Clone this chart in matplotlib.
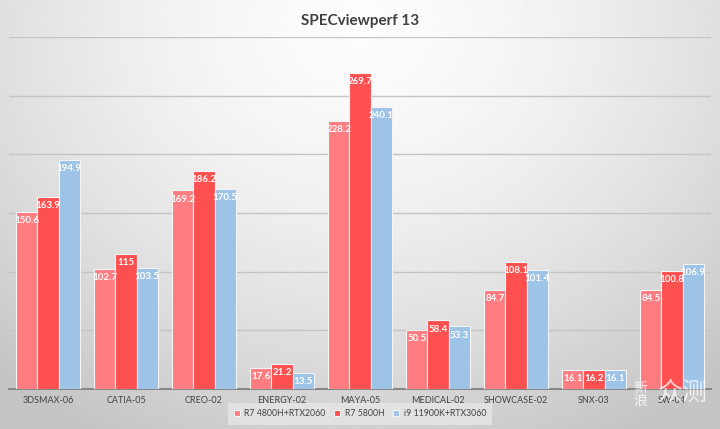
import numpy as np
import matplotlib
matplotlib.use("Agg")
import matplotlib.pyplot as plt

categories = ["3DSMAX-06", "CATIA-05", "CREO-02", "ENERGY-02", "MAYA-05",
              "MEDICAL-02", "SHOWCASE-02", "SNX-03", "SW-04"]
series_names = ["R7 4800H+RTX2060", "R7 5800H", "i9 11900K+RTX3060"]
r7_4800h = [150.6, 102.7, 169.2, 17.6, 228.2, 50.5, 84.7, 16.1, 84.5]
r7_5800h = [163.9, 115, 186.2, 21.2, 269.7, 58.4, 108.1, 16.2, 100.8]
i9_11900k = [194.9, 103.5, 170.5, 13.5, 240.1, 53.3, 101.4, 16.1, 106.9]
colors = ["#FF7C80", "#FF5050", "#9DC3E6"]

plt.rcParams['font.family'] = ['Lato', 'DejaVu Sans']

fig = plt.figure(figsize=(7.2, 4.29), dpi=100)

# radial gray gradient background
bg = fig.add_axes([0, 0, 1, 1], zorder=-10)
yy, xx = np.mgrid[0:1:200j, 0:1:300j]
d = np.sqrt(((xx - 0.5) / 0.75) ** 2 + ((yy - 0.05) / 1.1) ** 2)
shade = 0.99 - 0.22 * np.clip(d, 0, 1) ** 1.6
bg.imshow(shade, cmap="gray", vmin=0, vmax=1, aspect="auto", extent=[0, 1, 1, 0])
bg.axis("off")

ax = fig.add_axes([0.0125, 0.0932, 0.975, 0.8206])
ax.patch.set_alpha(0)

x = np.arange(len(categories))
w = 0.27
for i, (vals, name) in enumerate(zip([r7_4800h, r7_5800h, i9_11900k], series_names)):
    bars = ax.bar(x + (i - 1) * w, vals, w, color=colors[i], edgecolor="#f4f4f4",
                  linewidth=0.8, label=name, zorder=3)
    for b, v in zip(bars, vals):
        ax.text(b.get_x() + b.get_width() / 2, v - 3.5, f"{v:g}", ha="center", va="top",
                color="white", fontsize=7, fontweight="bold", zorder=4)

ax.set_xlim(-0.5, len(categories) - 0.5)
ax.set_ylim(0, 300)
ax.set_yticks(np.arange(50, 301, 50))
ax.yaxis.grid(True, color="#c4c4c4", linewidth=1)
ax.tick_params(axis="y", left=False, labelleft=False)
ax.set_xticks(x)
ax.set_xticklabels(categories, fontsize=6.5, color="#444444")
ax.tick_params(axis="x", length=0, pad=5)
for s in ["top", "right", "left"]:
    ax.spines[s].set_visible(False)
ax.spines["bottom"].set_color("#888888")
ax.spines["bottom"].set_linewidth(1.5)

fig.text(0.5, 0.951, "SPECviewperf 13", ha="center", va="center", fontsize=11,
         fontweight="bold", color="#404040")

leg = fig.legend(loc="center", bbox_to_anchor=(0.5, 0.035), ncol=3, fontsize=6.3,
                 frameon=True, handlelength=0.7, handleheight=0.7, columnspacing=1.0,
                 handletextpad=0.5)
leg.get_frame().set_facecolor("#e6e6e6")
leg.get_frame().set_edgecolor("none")
leg.get_frame().set_boxstyle("square", pad=0.3)
for t in leg.get_texts():
    t.set_color("#444444")

# watermark
cjk = ["Noto Sans CJK SC", "DejaVu Sans"]
fig.text(0.889, 0.08, "新\n浪", fontsize=10, color="white", alpha=0.8,
         family=cjk, ha="center", va="center", linespacing=1.0)
fig.text(0.948, 0.085, "众测", fontsize=18, color="white", alpha=0.75,
         family=cjk, ha="center", va="center")

fig.savefig("out.png", dpi=100)
